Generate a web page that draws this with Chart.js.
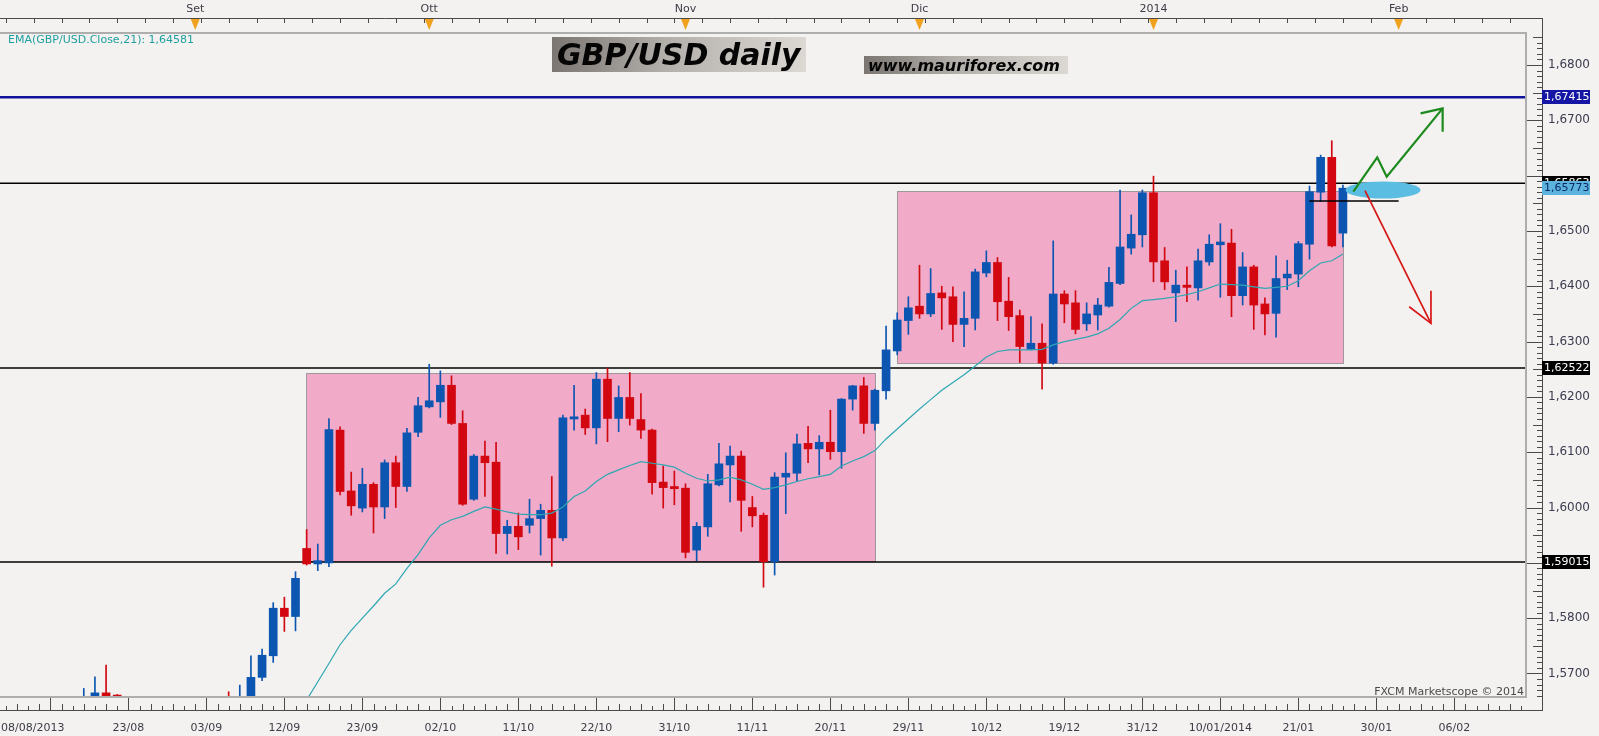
<!DOCTYPE html>
<html>
<head>
<meta charset="utf-8">
<title>GBP/USD daily</title>
<script src="https://cdn.jsdelivr.net/npm/chart.js@4.4.1/dist/chart.umd.min.js"></script>
<style>
  html, body { margin: 0; padding: 0; background: #f3f2f0; }
  #wrap { width: 1599px; height: 736px; position: relative; }
</style>
</head>
<body>
<div id="wrap"><canvas id="chart"></canvas></div>
<script>
// trading days (no candle on 25/12 and 01/01)
const dates = [
  '19/08','20/08','21/08','22/08','23/08','26/08','27/08','28/08','29/08','30/08',
  '02/09','03/09','04/09','05/09','06/09','09/09','10/09','11/09','12/09','13/09',
  '16/09','17/09','18/09','19/09','20/09','23/09','24/09','25/09','26/09','27/09',
  '30/09','01/10','02/10','03/10','04/10','07/10','08/10','09/10','10/10','11/10',
  '14/10','15/10','16/10','17/10','18/10','21/10','22/10','23/10','24/10','25/10',
  '28/10','29/10','30/10','31/10','01/11','04/11','05/11','06/11','07/11','08/11',
  '11/11','12/11','13/11','14/11','15/11','18/11','19/11','20/11','21/11','22/11',
  '25/11','26/11','27/11','28/11','29/11','02/12','03/12','04/12','05/12','06/12',
  '09/12','10/12','11/12','12/12','13/12','16/12','17/12','18/12','19/12','20/12',
  '23/12','24/12','26/12','27/12','30/12','31/12','02/01','03/01','06/01','07/01',
  '08/01','09/01','10/01','13/01','14/01','15/01','16/01','17/01','20/01','21/01',
  '22/01','23/01','24/01','27/01'
];

const open = [
  1.5615,1.5640,1.5665,1.5661,1.5650,1.5575,1.5590,1.5515,1.5525,1.5495,
  1.5535,1.5560,1.5570,1.5630,1.5600,1.5650,1.5693,1.5732,1.5818,1.5803,
  1.5926,1.5898,1.5900,1.6140,1.6030,1.5999,1.6042,1.6001,1.6081,1.6038,
  1.6136,1.6182,1.6191,1.6221,1.6152,1.6015,1.6093,1.6082,1.5953,1.5966,
  1.5968,1.5980,1.5995,1.5945,1.6160,1.6167,1.6144,1.6232,1.6161,1.6199,
  1.6159,1.6140,1.6046,1.6038,1.6035,1.5923,1.5965,1.6041,1.6077,1.6093,
  1.6000,1.5986,1.5902,1.6055,1.6062,1.6116,1.6106,1.6118,1.6101,1.6196,
  1.6220,1.6152,1.6211,1.6283,1.6338,1.6364,1.6350,1.6388,1.6381,1.6331,
  1.6342,1.6424,1.6443,1.6373,1.6347,1.6286,1.6297,1.6261,1.6386,1.6370,
  1.6332,1.6348,1.6364,1.6405,1.6469,1.6493,1.6569,1.6446,1.6388,1.6402,
  1.6397,1.6444,1.6475,1.6478,1.6383,1.6435,1.6368,1.6351,1.6415,1.6422,
  1.6476,1.6570,1.6633,1.6496
];
const high = [
  1.5673,1.5694,1.5715,1.5662,1.5655,1.5610,1.5600,1.5540,1.5545,1.5540,
  1.5575,1.5590,1.5620,1.5667,1.5679,1.5732,1.5744,1.5828,1.5838,1.5884,
  1.5960,1.5934,1.6161,1.6146,1.6064,1.6071,1.6045,1.6086,1.6093,1.6143,
  1.6199,1.6259,1.6247,1.6238,1.6175,1.6096,1.6120,1.6118,1.5977,1.5990,
  1.6015,1.6006,1.6056,1.6167,1.6221,1.6178,1.6244,1.6252,1.6220,1.6244,
  1.6206,1.6142,1.6075,1.6066,1.6043,1.5973,1.6060,1.6116,1.6111,1.6102,
  1.6020,1.5990,1.6063,1.6099,1.6133,1.6147,1.6130,1.6176,1.6197,1.6221,
  1.6235,1.6214,1.6328,1.6352,1.6381,1.6438,1.6432,1.6400,1.6399,1.6390,
  1.6431,1.6464,1.6452,1.6416,1.6357,1.6345,1.6332,1.6482,1.6392,1.6392,
  1.6370,1.6378,1.6434,1.6574,1.6529,1.6574,1.6599,1.6470,1.6429,1.6435,
  1.6467,1.6493,1.6513,1.6503,1.6461,1.6438,1.6379,1.6455,1.6447,1.6481,
  1.6581,1.6637,1.6663,1.6583
];
const low = [
  1.5600,1.5620,1.5600,1.5590,1.5570,1.5560,1.5500,1.5450,1.5480,1.5470,
  1.5520,1.5540,1.5540,1.5580,1.5590,1.5640,1.5687,1.5720,1.5776,1.5777,
  1.5896,1.5886,1.5893,1.6023,1.5986,1.5992,1.5954,1.5980,1.6000,1.6029,
  1.6128,1.6180,1.6163,1.6150,1.6004,1.6013,1.6020,1.5917,1.5916,1.5924,
  1.5954,1.5914,1.5894,1.5940,1.6140,1.6132,1.6115,1.6119,1.6137,1.6149,
  1.6125,1.6024,1.5999,1.6005,1.5909,1.5904,1.5948,1.6039,1.6010,1.5957,
  1.5965,1.5856,1.5878,1.5989,1.6048,1.6081,1.6059,1.6087,1.6071,1.6176,
  1.6134,1.6140,1.6196,1.6276,1.6313,1.6342,1.6345,1.6322,1.6300,1.6291,
  1.6321,1.6417,1.6338,1.6320,1.6262,1.6285,1.6214,1.6259,1.6334,1.6314,
  1.6320,1.6321,1.6362,1.6403,1.6458,1.6471,1.6408,1.6394,1.6336,1.6372,
  1.6375,1.6438,1.6380,1.6345,1.6366,1.6322,1.6312,1.6308,1.6394,1.6399,
  1.6449,1.6553,1.6471,1.6471
];
const close = [
  1.5650,1.5665,1.5652,1.5650,1.5575,1.5590,1.5515,1.5525,1.5495,1.5535,
  1.5560,1.5570,1.5600,1.5600,1.5650,1.5693,1.5733,1.5818,1.5803,1.5872,
  1.5898,1.5904,1.6141,1.6029,1.6003,1.6042,1.6001,1.6081,1.6038,1.6135,
  1.6184,1.6193,1.6221,1.6152,1.6006,1.6093,1.6081,1.5953,1.5966,1.5947,
  1.5980,1.5995,1.5945,1.6162,1.6164,1.6144,1.6232,1.6161,1.6199,1.6161,
  1.6140,1.6045,1.6036,1.6034,1.5919,1.5966,1.6043,1.6079,1.6093,1.6013,
  1.5985,1.5902,1.6055,1.6062,1.6115,1.6106,1.6118,1.6101,1.6196,1.6220,
  1.6152,1.6212,1.6285,1.6339,1.6361,1.6350,1.6387,1.6379,1.6331,1.6342,
  1.6426,1.6443,1.6372,1.6345,1.6291,1.6297,1.6261,1.6386,1.6368,1.6322,
  1.6350,1.6366,1.6407,1.6471,1.6494,1.6569,1.6444,1.6408,1.6402,1.6398,
  1.6446,1.6476,1.6480,1.6383,1.6435,1.6366,1.6350,1.6414,1.6422,1.6477,
  1.6571,1.6633,1.6473,1.65773
];
// EMA(21) of the close (null = under the visible range)
const ema21 = [
  null,null,null,null,null,null,null,null,null,null,
  null,null,null,null,null,null,null,null,1.5590,1.5620,
  1.5652,1.5685,1.5718,1.5752,1.5778,1.5800,1.5822,1.5845,1.5862,1.5890,
  1.5915,1.5945,1.5968,1.5978,1.5984,1.5993,1.6001,1.5997,1.5992,1.5988,
  1.5987,1.5987,1.5990,1.6001,1.6020,1.6030,1.6047,1.6060,1.6068,1.6076,
  1.6083,1.6080,1.6077,1.6073,1.6062,1.6053,1.6048,1.6050,1.6055,1.6050,
  1.6042,1.6033,1.6036,1.6041,1.6047,1.6052,1.6056,1.6060,1.6075,1.6084,
  1.6092,1.6103,1.6124,1.6142,1.6160,1.6178,1.6195,1.6212,1.6226,1.6240,
  1.6256,1.6272,1.6282,1.6285,1.6285,1.6285,1.6286,1.6294,1.6300,1.6304,
  1.6308,1.6314,1.6324,1.6340,1.6360,1.6374,1.6376,1.6378,1.6381,1.6385,
  1.6390,1.6397,1.6404,1.6403,1.6402,1.6399,1.6396,1.6398,1.6400,1.6410,
  1.6428,1.6442,1.6446,1.64581
];

const yTickValues = [1.57, 1.58, 1.60, 1.61, 1.62, 1.63, 1.64, 1.65, 1.67, 1.68];
const bottomTickIdx = [-3, 4, 11, 18, 25, 32, 39, 46, 53, 60, 67, 74, 81, 88, 95, 102, 109, 116, 123];
const bottomTickLabels = ['08/08/2013','23/08','03/09','12/09','23/09','02/10','11/10','22/10','31/10',
  '11/11','20/11','29/11','10/12','19/12','31/12','10/01/2014','21/01','30/01','06/02'];
const monthIdx = [10, 31, 54, 75, 96, 118];
const monthLabels = ['Set', 'Ott', 'Nov', 'Dic', '2014', 'Feb'];

// drawn levels and ranges (candle index, price)
const levelPrices = [1.67415, 1.65863, 1.62522, 1.59015];
const lastPrice = 1.65773;
const rangeBoxes = [[19.95, 71.0, 1.5903, 1.6243], [73.0, 113.0, 1.6262, 1.6573]];
const shortLevel = [110, 118, 1.6554];
const zoneEllipse = [116.6, 1.6574, 3.37, 0.00155];
const upArrow = [[113.93, 1.65709], [116.08, 1.66331], [116.93, 1.65980], [121.95, 1.67216]];
const upHead = [[119.97, 1.67126], [121.95, 1.67216], [121.95, 1.66794]];
const downArrow = [[114.98, 1.65727], [120.90, 1.63330]];
const downHead = [[118.95, 1.63630], [120.90, 1.63330], [120.90, 1.63919]];

const X_MIN = -7.52, X_MAX = 129.52;
const Y_MIN = 1.56557, Y_MAX = 1.68596;
const UP = '#0c55b1', DOWN = '#d2070f';
const FONT = '"DejaVu Sans", "Liberation Sans", sans-serif';

const fmt = (v, d) => v.toFixed(d).replace('.', ',');
const candleColor = c => close[c.dataIndex] >= open[c.dataIndex] ? UP : DOWN;

const fxcmDecor = {
  id: 'fxcmDecor',
  beforeDraw(chart) {
    const ctx = chart.ctx;
    ctx.save();
    ctx.fillStyle = '#f3f2f0';
    ctx.fillRect(0, 0, chart.width, chart.height);
    ctx.restore();
  },
  beforeDatasetsDraw(chart) {
    const {ctx, chartArea: a, scales: {x, y}} = chart;
    ctx.save();
    ctx.beginPath();
    ctx.rect(a.left, a.top, a.right - a.left, a.bottom - a.top);
    ctx.clip();
    rangeBoxes.forEach(b => {
      const x0 = Math.round(x.getPixelForValue(b[0])), x1 = Math.round(x.getPixelForValue(b[1]));
      const y0 = Math.round(y.getPixelForValue(b[3])), y1 = Math.round(y.getPixelForValue(b[2]));
      ctx.fillStyle = 'rgb(241,171,201)';
      ctx.fillRect(x0, y0, x1 - x0, y1 - y0);
      ctx.strokeStyle = '#a0979c';
      ctx.lineWidth = 1;
      ctx.strokeRect(x0 + 0.5, y0 + 0.5, x1 - x0, y1 - y0);
    });
    levelPrices.forEach((p, k) => {
      const py = y.getPixelForValue(p);
      ctx.strokeStyle = k === 0 ? '#12139c' : '#000';
      ctx.lineWidth = k === 0 ? 2.5 : 1.4;
      ctx.beginPath();
      ctx.moveTo(a.left, py);
      ctx.lineTo(a.right, py);
      ctx.stroke();
    });
    ctx.restore();
  },
  afterDatasetsDraw(chart) {
    const {ctx, chartArea: a, scales: {x, y}} = chart;
    const pt = q => [x.getPixelForValue(q[0]), y.getPixelForValue(q[1])];
    const path = (pts, color, w) => {
      ctx.strokeStyle = color;
      ctx.lineWidth = w;
      ctx.beginPath();
      pts.map(pt).forEach((p, k) => k ? ctx.lineTo(p[0], p[1]) : ctx.moveTo(p[0], p[1]));
      ctx.stroke();
    };
    ctx.save();
    ctx.beginPath();
    ctx.rect(a.left, a.top, a.right - a.left, a.bottom - a.top);
    ctx.clip();
    // short level under the last candles
    path([[shortLevel[0], shortLevel[2]], [shortLevel[1], shortLevel[2]]], '#000', 1.4);
    // blue zone
    const [ecx, ecy] = pt([zoneEllipse[0], zoneEllipse[1]]);
    const rx = Math.abs(x.getPixelForValue(zoneEllipse[0] + zoneEllipse[2]) - ecx);
    const ry = Math.abs(y.getPixelForValue(zoneEllipse[1] + zoneEllipse[3]) - ecy);
    ctx.fillStyle = '#5cbde2';
    ctx.beginPath();
    ctx.ellipse(ecx, ecy, rx, ry, 0, 0, Math.PI * 2);
    ctx.fill();
    // arrows
    ctx.lineJoin = 'miter';
    path(upArrow, '#1d8a1d', 2.2);
    path(upHead, '#1d8a1d', 2.2);
    path(downArrow, '#d81616', 1.7);
    path(downHead, '#d81616', 1.7);
    ctx.restore();
  },
  afterDraw(chart) {
    const {ctx, chartArea: a, scales: {x, y}} = chart;
    const axisX = a.right + 15, topLine = 18, baseLine = a.bottom + 12;
    ctx.save();

    // plot frame
    ctx.strokeStyle = '#aeaeae';
    ctx.lineWidth = 2;
    ctx.beginPath();
    ctx.moveTo(a.left, a.top + 1);
    ctx.lineTo(a.right - 1, a.top + 1);
    ctx.lineTo(a.right - 1, a.bottom - 1);
    ctx.lineTo(a.left, a.bottom - 1);
    ctx.stroke();

    // axis lines
    ctx.strokeStyle = '#4a4a4a';
    ctx.lineWidth = 1;
    ctx.beginPath();
    ctx.moveTo(0, topLine + 0.5); ctx.lineTo(axisX + 0.5, topLine + 0.5);
    ctx.moveTo(0, baseLine + 0.5); ctx.lineTo(axisX + 0.5, baseLine + 0.5);
    ctx.moveTo(axisX + 0.5, topLine); ctx.lineTo(axisX + 0.5, baseLine + 1);
    ctx.stroke();

    // bottom ticks: one per candle, long ones at the labels
    ctx.beginPath();
    for (let i = Math.ceil(X_MIN); i <= X_MAX; i++) {
      const px = Math.round(x.getPixelForValue(i)) + 0.5;
      const len = bottomTickIdx.includes(i) ? 12 : (i % 2 ? 4 : 6);
      ctx.moveTo(px, baseLine); ctx.lineTo(px, baseLine - len);
    }
    // top ticks
    for (let i = Math.ceil(X_MIN); i <= X_MAX; i += 2.5) {
      const px = Math.round(x.getPixelForValue(i)) + 0.5;
      const len = (i % 5 === 0) ? 9 : 5;
      ctx.moveTo(px, topLine); ctx.lineTo(px, topLine + len);
    }
    // right ticks every 0.001
    for (let t = 1566; t <= 1685; t++) {
      const py = Math.round(y.getPixelForValue(t / 1000)) + 0.5;
      const len = t % 10 === 0 ? 15 : (t % 5 === 0 ? 9 : 5);
      ctx.moveTo(axisX, py); ctx.lineTo(axisX - len, py);
    }
    ctx.stroke();

    // month markers
    ctx.font = '11px ' + FONT;
    ctx.textAlign = 'center';
    ctx.textBaseline = 'middle';
    monthIdx.forEach((m, k) => {
      const px = x.getPixelForValue(m);
      ctx.fillStyle = '#f0a21e';
      ctx.beginPath();
      ctx.moveTo(px - 4.5, topLine + 1);
      ctx.lineTo(px + 4.5, topLine + 1);
      ctx.lineTo(px, topLine + 12);
      ctx.closePath();
      ctx.fill();
      ctx.fillStyle = '#3c3c46';
      ctx.fillText(monthLabels[k], px, 9);
    });

    // date labels (the first one sits against the left edge)
    bottomTickIdx.forEach((v, k) => {
      ctx.fillStyle = '#3c3c46';
      ctx.textAlign = k === 0 ? 'left' : 'center';
      ctx.fillText(bottomTickLabels[k], k === 0 ? 1 : x.getPixelForValue(v), baseLine + 18);
    });

    // price tags on the right axis
    const tag = (p, text, bg, fg) => {
      const py = Math.round(y.getPixelForValue(p));
      ctx.fillStyle = bg;
      ctx.fillRect(axisX, py - 7, 48, 14);
      ctx.fillStyle = fg;
      ctx.textAlign = 'left';
      ctx.fillText(text, axisX + 2, py + 0.5);
    };
    tag(levelPrices[0], fmt(levelPrices[0], 5), '#1616a4', '#fff');
    tag(levelPrices[1], fmt(levelPrices[1], 5), '#000', '#fff');
    tag(lastPrice, fmt(lastPrice, 5), '#5cb4de', '#0b2a66');
    tag(levelPrices[2], fmt(levelPrices[2], 5), '#000', '#fff');
    tag(levelPrices[3], fmt(levelPrices[3], 5), '#000', '#fff');

    // indicator legend
    ctx.fillStyle = '#1e9fa0';
    ctx.textAlign = 'left';
    ctx.fillText('EMA(GBP/USD.Close,21): ' + fmt(ema21[ema21.length - 1], 5), 8, 40);

    // watermark
    ctx.fillStyle = '#4a4a4a';
    ctx.textAlign = 'right';
    ctx.fillText('FXCM Marketscope \u00a9 2014', a.right - 3, a.bottom - 6);

    // title boxes
    const banner = (bx, by, bw, bh, text, size, tx, ty) => {
      const g = ctx.createLinearGradient(bx, 0, bx + bw, 0);
      g.addColorStop(0, '#7b7671');
      g.addColorStop(0.45, '#b3afab');
      g.addColorStop(1, '#dcd8d4');
      ctx.fillStyle = g;
      ctx.fillRect(bx, by, bw, bh);
      ctx.fillStyle = '#050505';
      ctx.textAlign = 'left';
      ctx.textBaseline = 'alphabetic';
      ctx.font = 'italic bold ' + size + 'px ' + FONT;
      ctx.fillText(text, tx, ty);
    };
    banner(552, 37, 254, 35, 'GBP/USD daily', 30, 557, 65);
    banner(864, 56, 204, 18, 'www.mauriforex.com', 16, 868, 71);
    ctx.restore();
  }
};

new Chart(document.getElementById('chart'), {
  type: 'bar',
  data: {
    datasets: [
      {
        type: 'line',
        label: 'EMA 21',
        data: dates.map((d, i) => ({x: i, y: ema21[i]})),
        borderColor: '#2ea7b2',
        borderWidth: 1.2,
        pointRadius: 0,
        order: 0
      },
      {
        label: 'body',
        data: dates.map((d, i) => ({x: i, y: [open[i], close[i]]})),
        backgroundColor: candleColor,
        barThickness: 8,
        grouped: false,
        order: 1
      },
      {
        label: 'wick',
        data: dates.map((d, i) => ({x: i, y: [low[i], high[i]]})),
        backgroundColor: candleColor,
        barThickness: 1,
        grouped: false,
        order: 2
      }
    ]
  },
  options: {
    responsive: true,
    maintainAspectRatio: false,
    animation: false,
    events: [],
    layout: { padding: { left: 0, right: 0, top: 32, bottom: 38 } },
    plugins: { legend: { display: false }, tooltip: { enabled: false } },
    scales: {
      x: {
        type: 'linear',
        display: false,
        offset: false,
        min: X_MIN,
        max: X_MAX
      },
      y: {
        type: 'linear',
        position: 'right',
        min: Y_MIN,
        max: Y_MAX,
        grid: { display: false, drawTicks: false },
        border: { display: false },
        afterBuildTicks: s => { s.ticks = yTickValues.map(v => ({value: v})); },
        afterFit: s => { s.width = 72; },
        ticks: {
          autoSkip: false,
          padding: 21,
          color: '#3c3c50',
          font: { family: 'DejaVu Sans', size: 12 },
          callback: v => fmt(v, 4)
        }
      }
    }
  },
  plugins: [fxcmDecor]
});
</script>
</body>
</html>
